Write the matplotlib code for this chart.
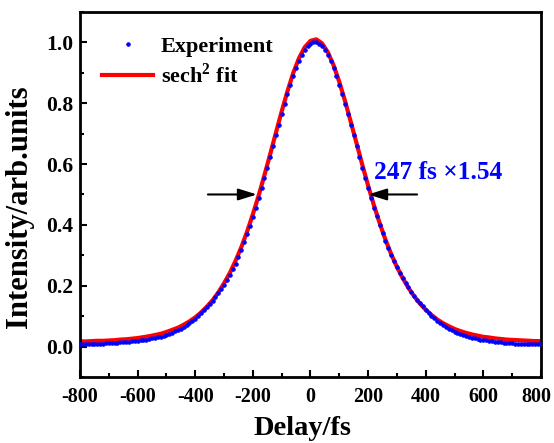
import numpy as np
import matplotlib
matplotlib.use("Agg")
import matplotlib.pyplot as plt
from matplotlib.ticker import MultipleLocator
from matplotlib.transforms import ScaledTranslation

# measured autocorrelation trace, 10 fs steps from -800 to 800 fs
exp_delay = np.arange(-800, 801, 10)
exp_intensity = [
    0.008, 0.008, 0.008, 0.009, 0.009, 0.009, 0.010, 0.010, 0.010, 0.011,
    0.011, 0.012, 0.012, 0.013, 0.014, 0.014, 0.015, 0.016, 0.017, 0.018,
    0.019, 0.021, 0.022, 0.023, 0.025, 0.027, 0.029, 0.031, 0.033, 0.036,
    0.039, 0.042, 0.046, 0.050, 0.054, 0.058, 0.063, 0.071, 0.077, 0.084,
    0.092, 0.101, 0.109, 0.119, 0.129, 0.139, 0.150, 0.162, 0.175, 0.189,
    0.203, 0.219, 0.235, 0.254, 0.273, 0.295, 0.318, 0.343, 0.369, 0.397,
    0.426, 0.456, 0.487, 0.520, 0.554, 0.588, 0.623, 0.659, 0.694, 0.729,
    0.764, 0.798, 0.830, 0.861, 0.890, 0.916, 0.939, 0.959, 0.975, 0.988,
    0.996, 1.000, 1.000, 0.996, 0.988, 0.975, 0.959, 0.939, 0.916, 0.890,
    0.861, 0.830, 0.798, 0.764, 0.729, 0.694, 0.659, 0.623, 0.588, 0.554,
    0.520, 0.487, 0.456, 0.428, 0.400, 0.373, 0.348, 0.324, 0.302, 0.281,
    0.262, 0.243, 0.226, 0.210, 0.195, 0.180, 0.167, 0.154, 0.142, 0.132,
    0.121, 0.111, 0.102, 0.093, 0.085, 0.078, 0.072, 0.065, 0.059, 0.054,
    0.049, 0.045, 0.041, 0.038, 0.035, 0.032, 0.029, 0.027, 0.025, 0.023,
    0.021, 0.020, 0.018, 0.017, 0.016, 0.015, 0.014, 0.013, 0.012, 0.012,
    0.011, 0.010, 0.010, 0.009, 0.009, 0.008, 0.008, 0.008, 0.007, 0.007,
    0.007,
]

# sech^2 fit curve, 20 fs steps
fit_delay = np.arange(-800, 801, 20)
fit_intensity = [
    0.017, 0.017, 0.018, 0.019, 0.019, 0.020, 0.021, 0.023, 0.024, 0.026,
    0.028, 0.031, 0.034, 0.038, 0.042, 0.048, 0.055, 0.062, 0.072, 0.083,
    0.096, 0.112, 0.131, 0.152, 0.178, 0.208, 0.242, 0.282, 0.327, 0.378,
    0.435, 0.496, 0.563, 0.632, 0.703, 0.773, 0.839, 0.899, 0.948, 0.984,
    1.005, 1.010, 0.997, 0.968, 0.925, 0.870, 0.807, 0.738, 0.668, 0.597,
    0.529, 0.465, 0.406, 0.352, 0.304, 0.262, 0.225, 0.193, 0.165, 0.141,
    0.121, 0.104, 0.089, 0.077, 0.067, 0.058, 0.051, 0.045, 0.040, 0.036,
    0.032, 0.030, 0.027, 0.025, 0.023, 0.022, 0.021, 0.020, 0.019, 0.018,
    0.018,
]

# FWHM markers
fwhm_left = -186
fwhm_right = 200
half_level = 0.5
fwhm_label = "247 fs \u00d71.54"

plt.rcParams['font.family'] = ['Liberation Serif', 'DejaVu Serif']
plt.rcParams['font.weight'] = 'bold'
plt.rcParams['axes.unicode_minus'] = False
plt.rcParams['mathtext.fontset'] = 'custom'
plt.rcParams['mathtext.rm'] = 'Liberation Serif:bold'
plt.rcParams['mathtext.bf'] = 'Liberation Serif:bold'

fig = plt.figure(figsize=(5.54, 4.43), dpi=100)
ax = fig.add_axes([0.1444, 0.149, 0.8321, 0.824])

ax.plot(exp_delay, exp_intensity, 'o', color='#0000ff', markersize=2.6,
        markeredgewidth=0.6, label='Experiment', zorder=3)
ax.plot(fit_delay, fit_intensity, '-', color='#ff0000', linewidth=3,
        label='sech$^2$ fit', zorder=2)

arrow_style = dict(arrowstyle='-|>,head_length=0.8,head_width=0.25',
                   color='black', lw=1.5, mutation_scale=14,
                   shrinkA=0, shrinkB=0)
ax.annotate('', xy=(fwhm_left, half_level), xytext=(fwhm_left - 170, half_level),
            arrowprops=arrow_style)
ax.annotate('', xy=(fwhm_right, half_level), xytext=(fwhm_right + 170, half_level),
            arrowprops=arrow_style)
ax.text(222, 0.572, fwhm_label, color='#0000ff', fontsize=18.3,
        fontweight='bold', va='center', ha='left', clip_on=False)

ax.set_xlim(-800, 800)
ax.set_ylim(-0.1, 1.1)
ax.set_xticks(np.arange(-800, 801, 200))
ax.xaxis.set_minor_locator(MultipleLocator(100))
ax.yaxis.set_minor_locator(MultipleLocator(0.1))
ax.set_yticks([0.0, 0.2, 0.4, 0.6, 0.8, 1.0])
ax.tick_params(which='both', direction='in', width=1.5)
ax.tick_params(axis='x', labelsize=14.5)
ax.tick_params(axis='y', labelsize=15.5)
ax.tick_params(which='major', length=5)
ax.tick_params(axis='x', which='major', pad=7)
ax.tick_params(axis='y', which='major', pad=5)
ax.tick_params(which='minor', length=3)
for s in ax.spines.values():
    s.set_linewidth(2)

ax.set_xlabel('Delay/fs', fontsize=20.5, fontweight='bold')
ax.set_ylabel('Intensity/arb.units', fontsize=22, fontweight='bold')
ax.xaxis.set_label_coords(0.483, -0.108, transform=ax.transAxes)
ax.xaxis.label.set_va('top')
ax.yaxis.set_label_coords(-0.099, 0.466, transform=ax.transAxes)

leg = ax.legend(loc='upper left', frameon=False, fontsize=16,
                handlelength=2.3, handletextpad=0.35, borderpad=0,
                borderaxespad=0, labelspacing=0.3,
                bbox_to_anchor=(0.048, 0.934))

# nudge the last x tick label so "800" stays inside the figure
fig.canvas.draw()
last_label = ax.xaxis.get_major_ticks()[-1].label1
last_label.set_transform(last_label.get_transform()
                         + ScaledTranslation(-3 / 72, 0, fig.dpi_scale_trans))

fig.savefig('out.png', dpi=100)
